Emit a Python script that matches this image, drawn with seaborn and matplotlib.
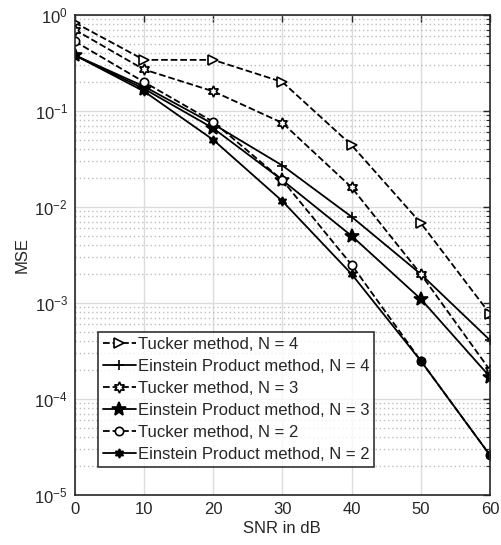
import numpy as np
import pandas as pd
import matplotlib
matplotlib.use("Agg")
import matplotlib.pyplot as plt
import seaborn as sns
from matplotlib.ticker import LogLocator, NullFormatter, MultipleLocator

# ---------------------------
# Data
# ---------------------------
snr_db = [0, 10, 20, 30, 40, 50, 60]

tucker_n4 = [0.83, 0.34, 0.34, 0.20, 0.044, 0.0068, 7.7e-4]
einstein_n4 = [0.38, 0.18, 0.073, 0.027, 0.0079, 0.0020, 4.1e-4]
tucker_n3 = [0.70, 0.27, 0.16, 0.075, 0.016, 0.0020, 2.0e-4]
einstein_n3 = [0.38, 0.17, 0.066, 0.019, 0.0050, 0.0011, 1.7e-4]
tucker_n2 = [0.53, 0.20, 0.077, 0.019, 0.0025, 2.5e-4, 2.6e-5]
einstein_n2 = [0.38, 0.16, 0.050, 0.0115, 0.0020, 2.5e-4, 2.6e-5]

labels = [
    "Tucker method, N = 4",
    "Einstein Product method, N = 4",
    "Tucker method, N = 3",
    "Einstein Product method, N = 3",
    "Tucker method, N = 2",
    "Einstein Product method, N = 2",
]
series = [tucker_n4, einstein_n4, tucker_n3, einstein_n3, tucker_n2, einstein_n2]

# marker, fill, linestyle, size
styles = [
    (">", "white", "--", 7),
    ("+", "black", "-", 7),
    ((6, 1, 0), "white", "--", 8),
    ("*", "black", "-", 10),
    ("o", "white", "--", 6),
    ((6, 1, 0), "black", "-", 6.5),
]

# ---------------------------
# Plot
# ---------------------------
sns.set_theme(style="white")
plt.rcParams["font.family"] = ["Liberation Sans", "DejaVu Sans"]
plt.rcParams["mathtext.fontset"] = "custom"
plt.rcParams["mathtext.rm"] = "Liberation Sans"
plt.rcParams["mathtext.it"] = "Liberation Sans:italic"

fig = plt.figure(figsize=(5.02, 5.45), dpi=100)
ax = fig.add_axes([0.149, 0.0917, 0.827, 0.881])

for y, lab, (mk, fc, ls, ms) in zip(series, labels, styles):
    df = pd.DataFrame({"snr": snr_db, "mse": y})
    sns.lineplot(data=df, x="snr", y="mse", ax=ax, color="black", linestyle=ls,
                 linewidth=1.3, marker=mk, markersize=ms, markerfacecolor=fc,
                 markeredgecolor="black", markeredgewidth=1.2, label=lab)

ax.set_yscale("log")
ax.set_xlim(0, 60)
ax.set_ylim(1e-5, 1)
ax.xaxis.set_major_locator(MultipleLocator(10))
ax.yaxis.set_major_locator(LogLocator(base=10, numticks=10))
ax.yaxis.set_minor_locator(LogLocator(base=10, subs=np.arange(2, 10), numticks=10))
ax.yaxis.set_minor_formatter(NullFormatter())

ax.grid(True, which="major", color="#dcdcdc", linestyle="-", linewidth=1.0)
ax.grid(True, which="minor", axis="y", color="#bdbdbd", linestyle=(0, (1, 2)), linewidth=1.0)
ax.set_axisbelow(True)

ax.tick_params(which="both", direction="in", top=True, right=True,
               labelsize=12, colors="#262626")
ax.tick_params(which="major", length=5, width=1.0, pad=5)
ax.tick_params(which="minor", length=3, width=0.8)
for sp in ax.spines.values():
    sp.set_color("#262626")
    sp.set_linewidth(1.2)

ax.set_xlabel("SNR in dB", fontsize=12, color="#262626", labelpad=3)
ax.set_ylabel("MSE", fontsize=12, color="#262626", labelpad=3)

leg = ax.legend(loc="lower left", bbox_to_anchor=(0.055, 0.058), fontsize=12,
                frameon=True, fancybox=False, edgecolor="black",
                handlelength=2.0, handletextpad=0.1, borderpad=0.3,
                labelspacing=0.42, borderaxespad=0)
leg.get_frame().set_linewidth(1.2)

fig.savefig("out.png", dpi=100)
